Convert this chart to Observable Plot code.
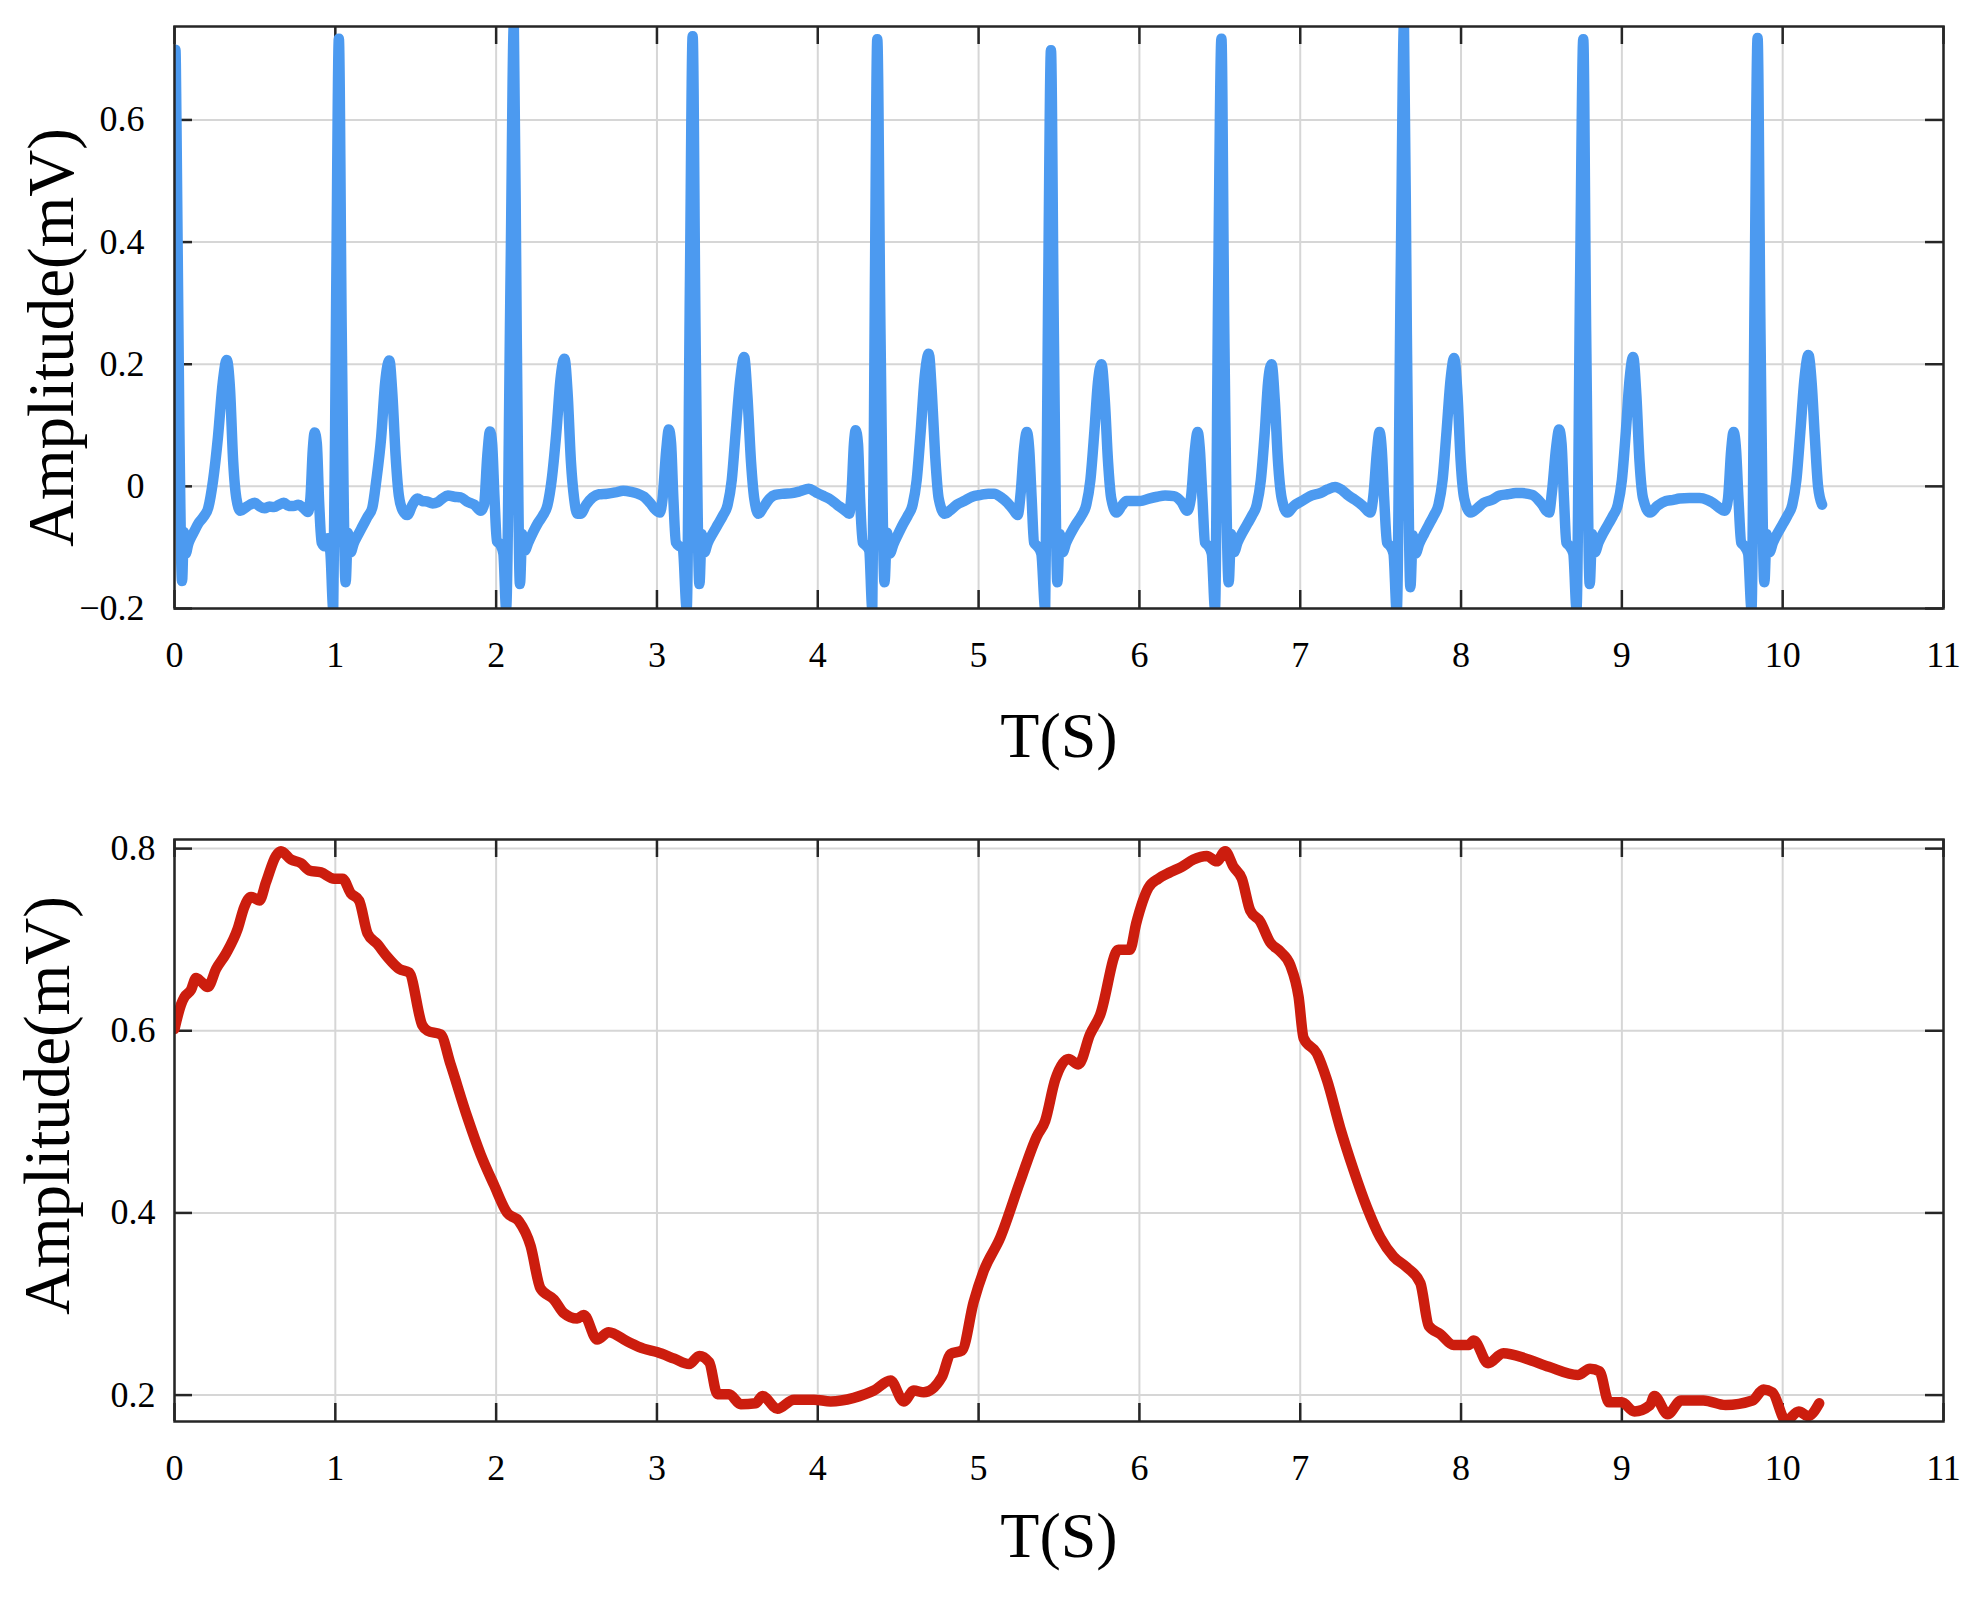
<!DOCTYPE html>
<html>
<head>
<meta charset="utf-8">
<script src="https://cdn.jsdelivr.net/npm/d3@7"></script>
<script src="https://cdn.jsdelivr.net/npm/@observablehq/plot@0.6"></script>
<style>
  html, body { margin: 0; padding: 0; background: #ffffff; }
  #chart { width: 1984px; height: 1597px; }
  #chart svg { display: block; }
</style>
</head>
<body>
<div id="chart"></div>
<script>
// ---------- data ----------
const xTicks = [0, 1, 2, 3, 4, 5, 6, 7, 8, 9, 10, 11];
const ecgYTicks = [-0.2, 0, 0.2, 0.4, 0.6];
const ppgYTicks = [0.2, 0.4, 0.6, 0.8];
const yLabel = "Amplitude(mV)";
const xLabel = "T(S)";

// ECG trace (time s, amplitude mV)
const ecgSignal = [
  [0.000,0.655],[0.006,0.715],[0.012,0.600],[0.030,0.100],[0.047,-0.155],[0.058,-0.075],[0.070,-0.110],[0.085,-0.095],
  [0.100,-0.085],[0.120,-0.075],[0.150,-0.060],[0.180,-0.050],[0.210,-0.035],[0.240,0.010],[0.270,0.080],[0.300,0.170],
  [0.325,0.207],[0.345,0.160],[0.365,0.040],[0.385,-0.020],[0.410,-0.040],[0.440,-0.035],[0.470,-0.030],[0.500,-0.027],
  [0.530,-0.033],[0.560,-0.036],[0.590,-0.033],[0.620,-0.034],[0.650,-0.030],[0.680,-0.027],[0.710,-0.032],[0.740,-0.032],
  [0.770,-0.030],[0.800,-0.035],[0.830,-0.042],
  [0.845,-0.020],[0.860,0.060],[0.872,0.088],[0.885,0.070],[0.900,-0.030],[0.915,-0.092],[0.935,-0.098],[0.955,-0.085],
  [0.970,-0.110],[0.987,-0.200],[1.005,0.300],[1.022,0.733],[1.040,0.250],[1.064,-0.157],[1.078,-0.076],[1.095,-0.108],
  [1.115,-0.093],[1.140,-0.080],[1.170,-0.065],[1.200,-0.050],[1.230,-0.035],[1.255,0.010],[1.285,0.080],[1.310,0.170],
  [1.336,0.206],[1.355,0.150],[1.375,0.050],[1.395,-0.015],[1.420,-0.040],[1.448,-0.047],[1.480,-0.030],[1.510,-0.020],
  [1.540,-0.024],[1.573,-0.025],[1.605,-0.028],[1.635,-0.026],[1.665,-0.020],[1.700,-0.015],[1.740,-0.017],[1.780,-0.018],
  [1.820,-0.025],[1.864,-0.030],[1.905,-0.040],
  [1.925,-0.030],[1.945,0.050],[1.962,0.090],[1.975,0.070],[1.990,-0.020],[2.005,-0.090],[2.025,-0.095],[2.045,-0.110],
  [2.062,-0.200],[2.090,0.350],[2.110,0.755],[2.128,0.250],[2.148,-0.160],[2.162,-0.078],[2.178,-0.105],[2.200,-0.092],
  [2.230,-0.075],[2.260,-0.060],[2.290,-0.048],[2.320,-0.030],[2.345,0.010],[2.375,0.090],[2.400,0.175],[2.425,0.209],
  [2.445,0.150],[2.465,0.040],[2.485,-0.020],[2.505,-0.045],[2.525,-0.045],[2.560,-0.030],[2.600,-0.018],[2.640,-0.013],
  [2.690,-0.012],[2.740,-0.010],[2.790,-0.007],[2.840,-0.009],[2.880,-0.012],[2.920,-0.017],[2.960,-0.028],[2.990,-0.038],
  [3.018,-0.043],
  [3.035,-0.020],[3.058,0.060],[3.074,0.093],[3.088,0.070],[3.102,-0.020],[3.118,-0.092],[3.140,-0.098],[3.160,-0.100],
  [3.185,-0.200],[3.205,0.330],[3.222,0.737],[3.240,0.250],[3.264,-0.160],[3.278,-0.078],[3.295,-0.108],[3.315,-0.093],
  [3.345,-0.078],[3.380,-0.062],[3.410,-0.048],[3.440,-0.030],[3.465,0.010],[3.490,0.090],[3.518,0.175],[3.542,0.212],
  [3.562,0.150],[3.585,0.040],[3.605,-0.020],[3.632,-0.045],[3.660,-0.035],[3.700,-0.020],[3.735,-0.014],[3.790,-0.012],
  [3.840,-0.011],[3.890,-0.008],[3.944,-0.004],[3.990,-0.010],[4.030,-0.015],[4.069,-0.020],[4.120,-0.030],[4.172,-0.040],
  [4.195,-0.045],
  [4.210,-0.010],[4.225,0.070],[4.236,0.092],[4.250,0.070],[4.263,-0.020],[4.280,-0.092],[4.300,-0.097],[4.320,-0.105],
  [4.339,-0.200],[4.355,0.320],[4.370,0.732],[4.390,0.250],[4.415,-0.157],[4.430,-0.076],[4.448,-0.110],[4.470,-0.095],
  [4.500,-0.078],[4.530,-0.062],[4.560,-0.048],[4.590,-0.030],[4.615,0.010],[4.640,0.090],[4.665,0.180],[4.690,0.217],
  [4.710,0.150],[4.730,0.050],[4.752,-0.020],[4.790,-0.045],[4.820,-0.040],[4.865,-0.030],[4.910,-0.024],[4.960,-0.017],
  [5.014,-0.014],[5.060,-0.012],[5.097,-0.012],[5.140,-0.018],[5.180,-0.027],[5.215,-0.038],[5.243,-0.047],
  [5.262,-0.010],[5.282,0.060],[5.300,0.089],[5.315,0.060],[5.330,-0.020],[5.345,-0.092],[5.365,-0.098],[5.390,-0.110],
  [5.414,-0.200],[5.432,0.300],[5.450,0.714],[5.468,0.250],[5.490,-0.157],[5.505,-0.078],[5.522,-0.108],[5.545,-0.092],
  [5.575,-0.076],[5.605,-0.062],[5.640,-0.048],[5.670,-0.030],[5.695,0.010],[5.720,0.090],[5.742,0.170],[5.764,0.200],
  [5.785,0.140],[5.805,0.040],[5.825,-0.020],[5.858,-0.043],[5.890,-0.032],[5.920,-0.024],[5.960,-0.024],[6.006,-0.024],
  [6.060,-0.020],[6.110,-0.017],[6.160,-0.015],[6.214,-0.016],[6.260,-0.025],[6.297,-0.040],
  [6.320,-0.020],[6.345,0.060],[6.362,0.089],[6.376,0.060],[6.392,-0.020],[6.408,-0.092],[6.430,-0.098],[6.450,-0.110],
  [6.470,-0.200],[6.490,0.330],[6.510,0.733],[6.528,0.250],[6.555,-0.157],[6.570,-0.078],[6.588,-0.108],[6.610,-0.092],
  [6.640,-0.076],[6.670,-0.062],[6.700,-0.048],[6.730,-0.030],[6.755,0.010],[6.780,0.090],[6.800,0.170],[6.822,0.200],
  [6.842,0.140],[6.862,0.040],[6.885,-0.020],[6.920,-0.043],[6.960,-0.032],[7.010,-0.024],[7.060,-0.016],[7.124,-0.011],
  [7.170,-0.005],[7.217,-0.001],[7.260,-0.006],[7.300,-0.015],[7.340,-0.022],[7.390,-0.032],[7.435,-0.043],
  [7.455,-0.015],[7.478,0.060],[7.493,0.089],[7.507,0.060],[7.522,-0.020],[7.540,-0.092],[7.560,-0.098],[7.580,-0.110],
  [7.600,-0.205],[7.625,0.350],[7.645,0.756],[7.663,0.250],[7.685,-0.165],[7.700,-0.080],[7.717,-0.110],[7.740,-0.094],
  [7.770,-0.078],[7.800,-0.063],[7.830,-0.048],[7.860,-0.030],[7.885,0.010],[7.910,0.090],[7.935,0.175],[7.957,0.210],
  [7.978,0.150],[7.998,0.040],[8.020,-0.020],[8.060,-0.043],[8.100,-0.036],[8.140,-0.027],[8.193,-0.022],[8.240,-0.015],
  [8.290,-0.013],[8.340,-0.011],[8.380,-0.011],[8.443,-0.014],[8.480,-0.022],[8.505,-0.030],[8.530,-0.040],[8.547,-0.043],
  [8.565,-0.010],[8.592,0.065],[8.610,0.093],[8.625,0.070],[8.640,-0.020],[8.655,-0.092],[8.675,-0.098],[8.698,-0.110],
  [8.718,-0.200],[8.740,0.330],[8.760,0.732],[8.778,0.250],[8.800,-0.160],[8.815,-0.078],[8.832,-0.108],[8.855,-0.092],
  [8.885,-0.076],[8.915,-0.062],[8.945,-0.048],[8.975,-0.030],[9.000,0.010],[9.025,0.090],[9.048,0.175],[9.070,0.212],
  [9.090,0.150],[9.110,0.040],[9.132,-0.020],[9.175,-0.043],[9.220,-0.032],[9.274,-0.024],[9.320,-0.022],[9.358,-0.020],
  [9.420,-0.019],[9.483,-0.019],[9.530,-0.022],[9.566,-0.027],[9.600,-0.034],[9.640,-0.040],
  [9.660,-0.020],[9.680,0.060],[9.695,0.089],[9.710,0.060],[9.725,-0.020],[9.742,-0.092],[9.762,-0.098],[9.785,-0.110],
  [9.806,-0.200],[9.826,0.330],[9.844,0.734],[9.862,0.250],[9.886,-0.157],[9.900,-0.078],[9.917,-0.108],[9.940,-0.092],
  [9.970,-0.076],[10.000,-0.062],[10.030,-0.048],[10.060,-0.030],[10.085,0.010],[10.110,0.090],[10.135,0.175],[10.160,0.215],
  [10.180,0.170],[10.200,0.080],[10.220,0.000],[10.245,-0.030]
];

// Lower (slow) trace (time s, amplitude mV)
const ppgSignal = [
  [0.000,0.602],[0.041,0.629],[0.062,0.637],[0.103,0.645],[0.134,0.658],[0.166,0.654],[0.207,0.648],[0.259,0.668],
  [0.321,0.685],[0.393,0.712],[0.434,0.736],[0.476,0.747],[0.528,0.743],[0.569,0.763],[0.631,0.792],[0.662,0.797],
  [0.724,0.788],[0.786,0.784],[0.838,0.776],[0.910,0.774],[0.993,0.767],[1.045,0.767],[1.096,0.751],[1.148,0.743],
  [1.200,0.707],[1.262,0.695],[1.324,0.681],[1.397,0.668],[1.459,0.664],[1.541,0.606],[1.573,0.600],[1.655,0.596],
  [1.717,0.563],[1.821,0.505],[1.904,0.464],[1.986,0.431],[2.069,0.400],[2.141,0.391],[2.214,0.364],[2.276,0.317],
  [2.359,0.305],[2.421,0.290],[2.504,0.284],[2.545,0.288],[2.628,0.261],[2.700,0.269],[2.814,0.259],[2.917,0.251],
  [3.004,0.247],[3.108,0.240],[3.200,0.234],[3.263,0.243],[3.325,0.236],[3.376,0.201],[3.448,0.201],[3.521,0.190],
  [3.614,0.191],[3.656,0.199],[3.749,0.185],[3.852,0.195],[3.976,0.195],[4.080,0.193],[4.224,0.197],[4.349,0.205],
  [4.452,0.216],[4.535,0.193],[4.597,0.205],[4.659,0.203],[4.772,0.220],[4.824,0.245],[4.897,0.249],[4.969,0.302],
  [5.031,0.336],[5.135,0.373],[5.259,0.435],[5.362,0.484],[5.414,0.501],[5.476,0.546],[5.559,0.569],[5.621,0.563],
  [5.693,0.596],[5.755,0.617],[5.869,0.689],[5.941,0.689],[5.980,0.718],[6.056,0.757],[6.118,0.767],[6.191,0.774],
  [6.263,0.780],[6.336,0.788],[6.419,0.792],[6.481,0.786],[6.533,0.797],[6.585,0.780],[6.637,0.767],[6.689,0.732],
  [6.751,0.720],[6.813,0.697],[6.876,0.687],[6.938,0.672],[6.990,0.637],[7.021,0.592],[7.104,0.575],[7.166,0.546],
  [7.249,0.493],[7.332,0.447],[7.415,0.406],[7.498,0.373],[7.581,0.352],[7.664,0.340],[7.747,0.323],[7.799,0.276],
  [7.871,0.267],[7.954,0.255],[8.048,0.255],[8.079,0.260],[8.168,0.235],[8.263,0.246],[8.405,0.240],[8.546,0.231],
  [8.726,0.222],[8.802,0.229],[8.861,0.226],[8.920,0.192],[9.000,0.192],[9.078,0.182],[9.175,0.189],[9.202,0.199],
  [9.285,0.179],[9.368,0.194],[9.507,0.194],[9.645,0.189],[9.812,0.194],[9.881,0.206],[9.936,0.203],[10.020,0.172],
  [10.100,0.182],[10.158,0.177],[10.227,0.191]
];

// ---------- drawing ----------
const fmtY = d => d === 0 ? "0" : d3.format(".1f")(d);
const fmtX = d => d3.format("d")(d);

function panel(o) {
  const W = 1984, mL = 174, mR = 41;
  const innerW = W - mL - mR;
  const innerH = o.height - o.marginTop - o.marginBottom;
  const tick = 18;
  const ink = "#262626";
  const grid = "#d6d6d6";
  return Plot.plot({
    width: W,
    height: o.height,
    marginLeft: mL,
    marginRight: mR,
    marginTop: o.marginTop,
    marginBottom: o.marginBottom,
    style: {
      fontFamily: "'Liberation Serif', 'Times New Roman', serif",
      fontSize: "36px",
      color: "#000",
      background: "#fff",
      overflow: "visible"
    },
    x: { domain: [0, 11] },
    y: { domain: o.yDomain },
    marks: [
      Plot.gridX(xTicks, { stroke: grid, strokeOpacity: 1, strokeWidth: 2 }),
      Plot.gridY(o.yTicks, { stroke: grid, strokeOpacity: 1, strokeWidth: 2 }),
      Plot.tickX(xTicks, { x: d => d, insetTop: innerH - tick, stroke: ink, strokeWidth: 2.5 }),
      Plot.tickX(xTicks, { x: d => d, insetBottom: innerH - tick, stroke: ink, strokeWidth: 2.5 }),
      Plot.tickY(o.yTicks, { y: d => d, insetRight: innerW - tick, stroke: ink, strokeWidth: 2.5 }),
      Plot.tickY(o.yTicks, { y: d => d, insetLeft: innerW - tick, stroke: ink, strokeWidth: 2.5 }),
      Plot.line(o.data, {
        x: d => d[0], y: d => d[1], stroke: o.color, strokeWidth: 10.5,
        curve: "monotone-x", strokeLinejoin: "round", strokeLinecap: "round", clip: true
      }),
      Plot.frame({ stroke: ink, strokeWidth: 2.5 }),
      Plot.axisX(xTicks, { tickSize: 0, tickPadding: 33, fontSize: 36, label: null, tickFormat: fmtX }),
      Plot.axisY(o.yTicks, { tickSize: 0, tickPadding: o.yPad, fontSize: 36, label: null, tickFormat: fmtY }),
      Plot.text([yLabel], {
        text: d => d, frameAnchor: "left", rotate: -90, textAnchor: "middle", lineAnchor: "bottom",
        dx: o.yLabelDx, dy: o.yLabelDy, fontSize: 65, fill: "#000"
      }),
      Plot.text([xLabel], {
        text: d => d, frameAnchor: "bottom", textAnchor: "middle", lineAnchor: "bottom",
        dy: o.xLabelDy, fontSize: 64, fill: "#000"
      })
    ]
  });
}

const ecgChart = panel({
  data: ecgSignal, color: "#4c9af0", yDomain: [-0.2, 0.753], yTicks: ecgYTicks,
  height: 800, marginTop: 26, marginBottom: 192, yPad: 30,
  yLabelDx: -102, yLabelDy: 20, xLabelDy: 148
});
const ppgChart = panel({
  data: ppgSignal, color: "#cc1d0e", yDomain: [0.171, 0.81], yTicks: ppgYTicks,
  height: 797, marginTop: 39, marginBottom: 176, yPad: 19,
  yLabelDx: -106, yLabelDy: -25, xLabelDy: 135
});
const root = document.getElementById("chart");
root.appendChild(ecgChart);
root.appendChild(ppgChart);
</script>
</body>
</html>
